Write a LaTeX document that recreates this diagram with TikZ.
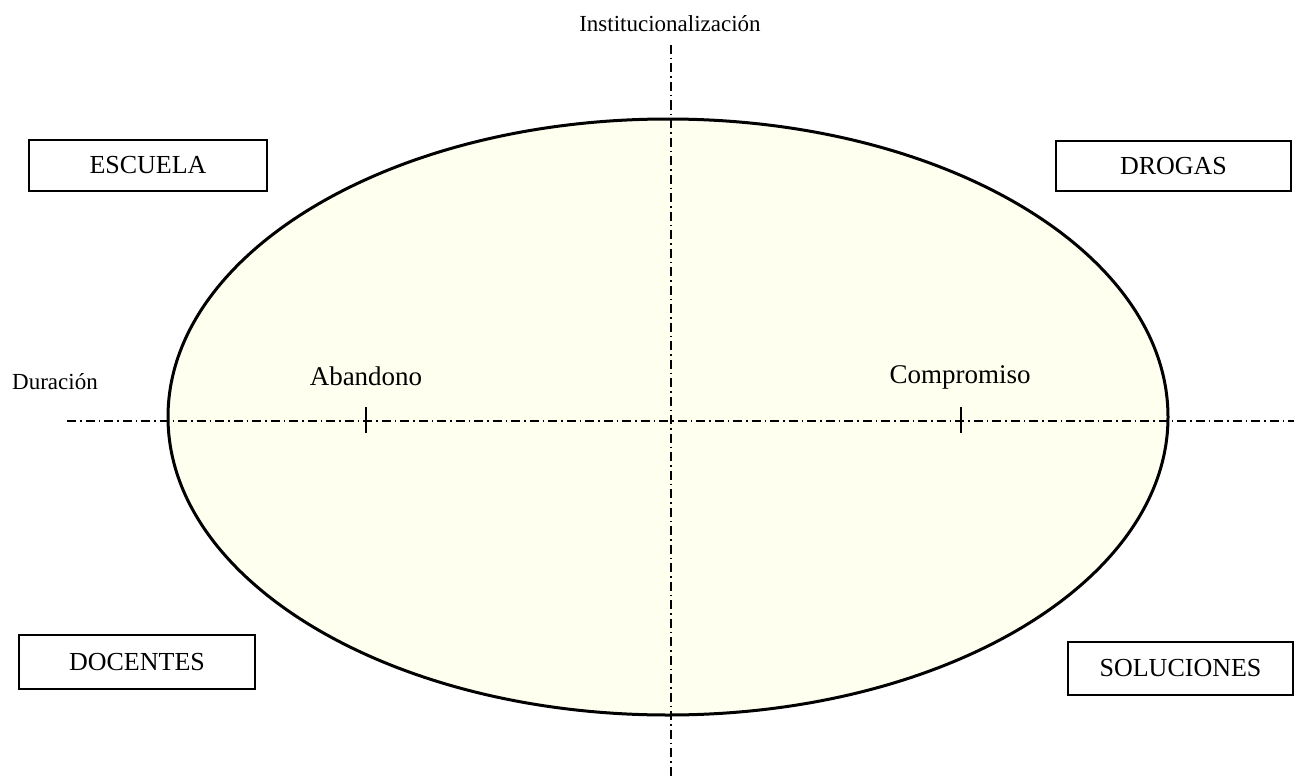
\documentclass[tikz,border=0pt]{standalone}
\usepackage{fontspec}
\setmainfont{Liberation Serif}
\usetikzlibrary{shapes.geometric}
\definecolor{cream}{RGB}{255,255,240}
\begin{document}
\begin{tikzpicture}[x=1pt,y=-1pt,
  box/.style={draw, line width=2pt, inner sep=0pt, font=\fontsize{26}{30}\selectfont},
  axisline/.style={line width=1.3pt, dash pattern=on 9pt off 4pt on 1.5pt off 4pt},
  lbl/.style={inner sep=0pt, font=\fontsize{27}{32}\selectfont},
  small/.style={inner sep=0pt, font=\fontsize{23}{27}\selectfont},
  tick/.style={line width=1.6pt}
]
\useasboundingbox (0,0) rectangle (1294,776);
% ellipse
\node[ellipse, fill=cream, minimum width=1000pt, minimum height=596pt, inner sep=0pt] (ell) at (668,417) {};
% axes
\coordinate (vtop) at (671,45);
\coordinate (vbot) at (671,776);
\coordinate (hleft) at (67,421);
\coordinate (hright) at (1294,421);
\draw[axisline] (vtop) -- (vbot);
\draw[axisline] (hleft) -- (hright);
\draw[line width=3pt] (ell.center) ellipse [x radius=500, y radius=298];
% ticks
\coordinate (t1a) at (366,407);
\coordinate (t1b) at (366,433);
\coordinate (t2a) at (961,407);
\coordinate (t2b) at (961,433);
\draw[tick] (t1a) -- (t1b);
\draw[tick] (t2a) -- (t2b);
% labels
\node[small] (inst) at (670,24) {Institucionalización};
\node[small, anchor=west] (dur) at (12,382) {Duración};
\node[lbl] (aban) at (366,376) {Abandono};
\node[lbl] (comp) at (960,377) {Compromiso};
% boxes
\node[box, minimum width=238pt, minimum height=51pt] (escuela) at (148,165.5) {ESCUELA};
\node[box, minimum width=235pt, minimum height=50pt] (drogas) at (1173.5,166) {DROGAS};
\node[box, minimum width=236pt, minimum height=54pt] (docentes) at (137,662) {DOCENTES};
\node[box, minimum width=225pt, minimum height=53pt] (soluciones) at (1180.5,668.5) {SOLUCIONES};
\end{tikzpicture}
\end{document}
